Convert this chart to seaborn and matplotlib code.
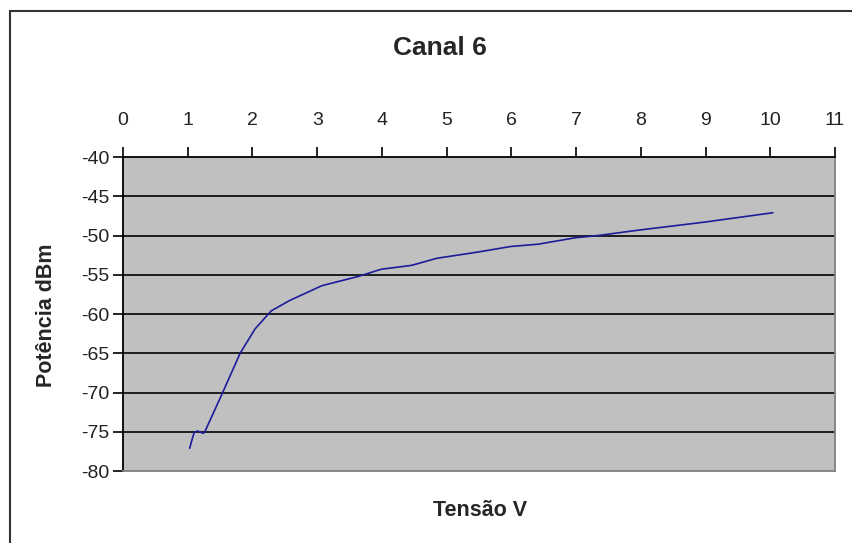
import matplotlib
matplotlib.use("Agg")
import matplotlib.pyplot as plt
import pandas as pd
import seaborn as sns
from matplotlib.patches import Rectangle

# Canal 6 - potência medida vs tensão
tensao = [1.03, 1.07, 1.10, 1.15, 1.24, 1.27, 1.54, 1.81, 2.04, 2.29, 2.57,
          3.07, 3.64, 3.99, 4.46, 4.85, 5.49, 5.99, 6.42, 6.98, 7.34, 7.98,
          8.98, 10.04]
potencia = [-77.1, -75.9, -75.1, -74.9, -75.2, -74.9, -70.0, -65.0, -61.9,
            -59.6, -58.3, -56.4, -55.2, -54.3, -53.8, -52.9, -52.1, -51.4,
            -51.1, -50.3, -50.0, -49.3, -48.3, -47.1]
x_ticks = list(range(0, 12))
y_ticks = list(range(-80, -35, 5))

df = pd.DataFrame({"Tensão V": tensao, "Potência dBm": potencia})

sns.set_style("white")
plt.rcParams["font.family"] = ["Liberation Sans", "DejaVu Sans"]
plt.rcParams["axes.unicode_minus"] = False

fig = plt.figure(figsize=(8.53, 5.43), dpi=100)
ax = fig.add_axes([123 / 853, 1 - 471 / 543, (835 - 123) / 853, (471 - 157) / 543])
ax.set_facecolor("#c0c0c0")

# moldura da figura
fig.patches.append(Rectangle((10 / 853, -0.05), 1.0, 1 - 11 / 543 + 0.05,
                             transform=fig.transFigure, fill=False,
                             edgecolor="#333333", linewidth=1.5))

for yv in y_ticks[1:-1]:
    ax.axhline(yv, color="#111111", linewidth=1.3, zorder=1)

sns.lineplot(data=df, x="Tensão V", y="Potência dBm", sort=False,
             color="#1c1c9a", linewidth=1.2, ax=ax, zorder=3)

ax.set_xlim(0, 11)
ax.set_ylim(-80, -40)
ax.set_xticks(x_ticks)
ax.set_yticks(y_ticks)
ax.xaxis.tick_top()
ax.tick_params(axis="x", top=True, bottom=False, direction="out", length=7,
               width=1.2, color="black", labelsize=14, labelcolor="#222222",
               pad=13)
ax.tick_params(axis="y", left=True, direction="out", length=7, width=1.2,
               color="black", labelsize=14, labelcolor="#222222", pad=3)

for side in ["top", "left"]:
    ax.spines[side].set_color("black")
    ax.spines[side].set_linewidth(1.3)
for side in ["right", "bottom"]:
    ax.spines[side].set_color("#808080")
    ax.spines[side].set_linewidth(1.3)

ax.set_xlabel("")
ax.set_ylabel("")
fig.text(440 / 853, 1 - 48 / 543, "Canal 6", ha="center", va="center",
         fontsize=19, fontweight="bold")
fig.text(480 / 853, 1 - 511 / 543, "Tensão V", ha="center", va="center",
         fontsize=15.5, fontweight="bold")
fig.text(47 / 853, 1 - 315 / 543, "Potência dBm", ha="center", va="center",
         fontsize=15.5, fontweight="bold", rotation=90)

fig.savefig("out.png", dpi=100)
